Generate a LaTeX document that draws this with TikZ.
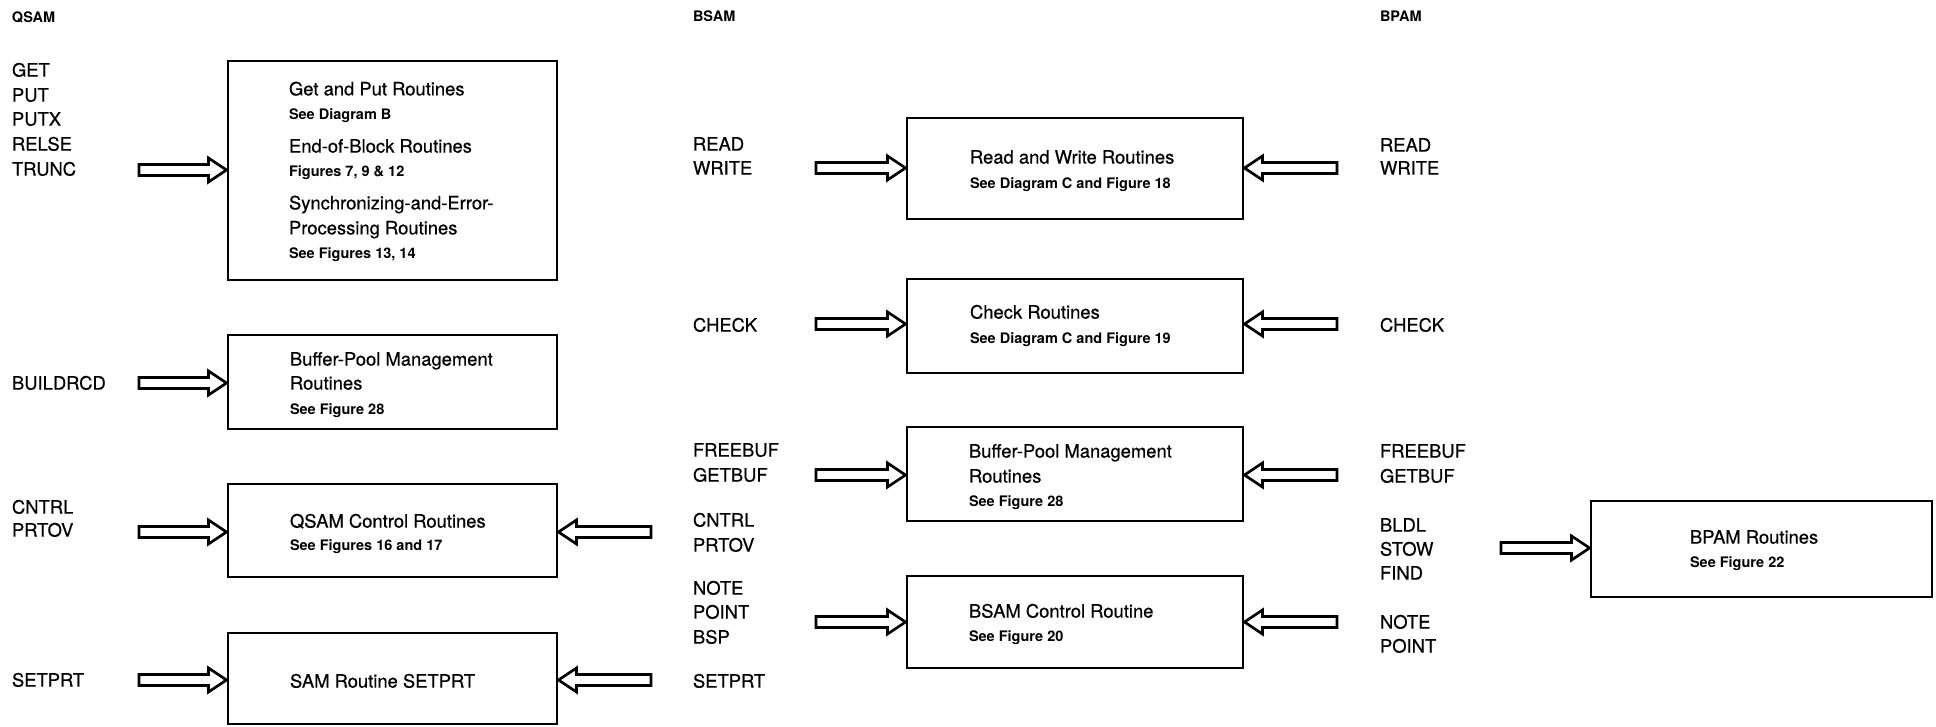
\documentclass[tikz,border=0pt]{standalone}
\usepackage{fontspec}
\setmainfont{TeX Gyre Heros}
% slightly heavier regular weight, as in the printed labels
\newfontfamily\labelfont{TeX Gyre Heros}[FakeBold=0.5]
\usetikzlibrary{calc}
\begin{document}
\begin{tikzpicture}[x=1pt,y=-1pt,
  every node/.style={inner sep=0pt,outer sep=0pt,anchor=west},
  bigtext/.style={text height=13.2pt,text depth=0pt,font=\labelfont\fontsize{18.4}{20}\selectfont},
  smalltext/.style={text height=10.5pt,text depth=0pt,font=\fontsize{14.5}{16}\selectfont\bfseries},
  routine/.style 2 args={draw,line width=2.9pt,outer sep=1.45pt,anchor=center,minimum width=#1,minimum height=#2},
  % hollow block arrow pointing right, tail at the start point
  rarrow/.style={draw,line width=2.7pt,line join=miter,to path={let \p1=(\tikztostart),\p2=(\tikztotarget) in
     (\x1,\y1+5.5pt) -- (\x2-18pt,\y1+5.5pt) -- (\x2-18pt,\y1+12pt) -- (\x2,\y1)
     -- (\x2-18pt,\y1-12pt) -- (\x2-18pt,\y1-5.5pt) -- (\x1,\y1-5.5pt) -- cycle}},
  % hollow block arrow pointing left
  larrow/.style={draw,line width=2.7pt,line join=miter,to path={let \p1=(\tikztostart),\p2=(\tikztotarget) in
     (\x1,\y1+5.5pt) -- (\x2+18pt,\y1+5.5pt) -- (\x2+18pt,\y1+12pt) -- (\x2,\y1)
     -- (\x2+18pt,\y1-12pt) -- (\x2+18pt,\y1-5.5pt) -- (\x1,\y1-5.5pt) -- cycle}}
]
\useasboundingbox (0,0) rectangle (1936,727);

% column titles
\node[smalltext] (tq) at (12,17) {QSAM};
\node[smalltext] (tb) at (693,16) {BSAM};
\node[smalltext] (tp) at (1380,16) {BPAM};

% ---------- QSAM ----------
\node[bigtext] (qget)   at (12,70)  {GET};
\node[bigtext] (qput)   at (12,95)  {PUT};
\node[bigtext] (qputx)  at (12,119) {PUTX};
\node[bigtext] (qrelse) at (12,144) {RELSE};
\node[bigtext] (qtrunc) at (12,169) {TRUNC};
\node[bigtext] (qbuild) at (12,383) {BUILDRCD};
\node[bigtext] (qcntrl) at (12,507) {CNTRL};
\node[bigtext] (qprtov) at (12,530) {PRTOV};
\node[bigtext] (qsetprt) at (12,680) {SETPRT};

\node[routine={329}{219}] (b1) at (392.5,170.5) {};
\node[routine={329}{94}]  (b2) at (392.5,382) {};
\node[routine={329}{93}]  (b3) at (392.5,530.5) {};
\node[routine={329}{91}]  (b4) at (392.5,678.5) {};

\node[bigtext]   (b1a) at (289,88.8)  {Get and Put Routines};
\node[smalltext] (b1b) at (289,114.3) {See Diagram B};
\node[bigtext]   (b1c) at (289,146)   {End-of-Block Routines};
\node[smalltext] (b1d) at (289,171.3) {Figures 7, 9 \& 12};
\node[bigtext]   (b1e) at (289,202.8) {Synchronizing-and-Error-};
\node[bigtext]   (b1f) at (289,227.8) {Processing Routines};
\node[smalltext] (b1g) at (289,253.5) {See Figures 13, 14};

\node[bigtext]   (b2a) at (290,359) {Buffer-Pool Management};
\node[bigtext]   (b2b) at (290,383) {Routines};
\node[smalltext] (b2c) at (290,409) {See Figure 28};

\node[bigtext]   (b3a) at (290,521) {QSAM Control Routines};
\node[smalltext] (b3b) at (290,545) {See Figures 16 and 17};

\node[bigtext]   (b4a) at (290,681) {SAM Routine SETPRT};

% ---------- BSAM ----------
\node[bigtext] (sread)  at (693,144) {READ};
\node[bigtext] (swrite) at (693,168) {WRITE};
\node[bigtext] (scheck) at (693,325) {CHECK};
\node[bigtext] (sfree)  at (693,450) {FREEBUF};
\node[bigtext] (sgetb)  at (693,475) {GETBUF};
\node[bigtext] (scntrl) at (693,520) {CNTRL};
\node[bigtext] (sprtov) at (693,545) {PRTOV};
\node[bigtext] (snote)  at (693,588) {NOTE};
\node[bigtext] (spoint) at (693,612) {POINT};
\node[bigtext] (sbsp)   at (693,637) {BSP};
\node[bigtext] (ssetprt) at (693,681) {SETPRT};

\node[routine={336}{101}] (b5) at (1075,168.5) {};
\node[routine={336}{94}]  (b6) at (1075,326) {};
\node[routine={336}{94}]  (b7) at (1075,474) {};
\node[routine={336}{92}]  (b8) at (1075,622) {};

\node[bigtext]   (b5a) at (970,157) {Read and Write Routines};
\node[smalltext] (b5b) at (970,183) {See Diagram C and Figure 18};
\node[bigtext]   (b6a) at (970,312) {Check Routines};
\node[smalltext] (b6b) at (970,338) {See Diagram C and Figure 19};
\node[bigtext]   (b7a) at (969,451) {Buffer-Pool Management};
\node[bigtext]   (b7b) at (969,476) {Routines};
\node[smalltext] (b7c) at (969,501) {See Figure 28};
\node[bigtext]   (b8a) at (969,611) {BSAM Control Routine};
\node[smalltext] (b8b) at (969,636) {See Figure 20};

% ---------- BPAM ----------
\node[bigtext] (pread)  at (1380,145) {READ};
\node[bigtext] (pwrite) at (1380,168) {WRITE};
\node[bigtext] (pcheck) at (1380,325) {CHECK};
\node[bigtext] (pfree)  at (1380,451) {FREEBUF};
\node[bigtext] (pgetb)  at (1380,476) {GETBUF};
\node[bigtext] (pbldl)  at (1380,525) {BLDL};
\node[bigtext] (pstow)  at (1380,549) {STOW};
\node[bigtext] (pfind)  at (1380,573) {FIND};
\node[bigtext] (pnote)  at (1380,622) {NOTE};
\node[bigtext] (ppoint) at (1380,646) {POINT};

\node[routine={341}{96}] (b9) at (1761.5,549) {};
\node[bigtext]   (b9a) at (1690,537) {BPAM Routines};
\node[smalltext] (b9b) at (1690,562) {See Figure 22};

% arrow tails
\coordinate (q1) at (139,170);
\coordinate (q2) at (139,383);
\coordinate (q3) at (139,532);
\coordinate (q4) at (139,680);
\coordinate (q3r) at (651,532);
\coordinate (q4r) at (651,680);
\coordinate (s1) at (816,168);
\coordinate (s2) at (816,324);
\coordinate (s3) at (816,475);
\coordinate (s4) at (816,622);
\coordinate (p1) at (1337,168);
\coordinate (p2) at (1337,324);
\coordinate (p3) at (1337,475);
\coordinate (p4) at (1337,622);
\coordinate (p5) at (1501,548);

% arrows into the routine boxes
\draw[rarrow] (q1) to (b1.west);
\draw[rarrow] (q2) to (b2.west);
\draw[rarrow] (q3) to (b3.west);
\draw[rarrow] (q4) to (b4.west);
\draw[larrow] (q3r) to (b3.east);
\draw[larrow] (q4r) to (b4.east);
\draw[rarrow] (s1) to (b5.west);
\draw[rarrow] (s2) to (b6.west);
\draw[rarrow] (s3) to (b7.west);
\draw[rarrow] (s4) to (b8.west);
\draw[larrow] (p1) to (b5.east);
\draw[larrow] (p2) to (b6.east);
\draw[larrow] (p3) to (b7.east);
\draw[larrow] (p4) to (b8.east);
\draw[rarrow] (p5) to (b9.west);
\end{tikzpicture}
\end{document}
